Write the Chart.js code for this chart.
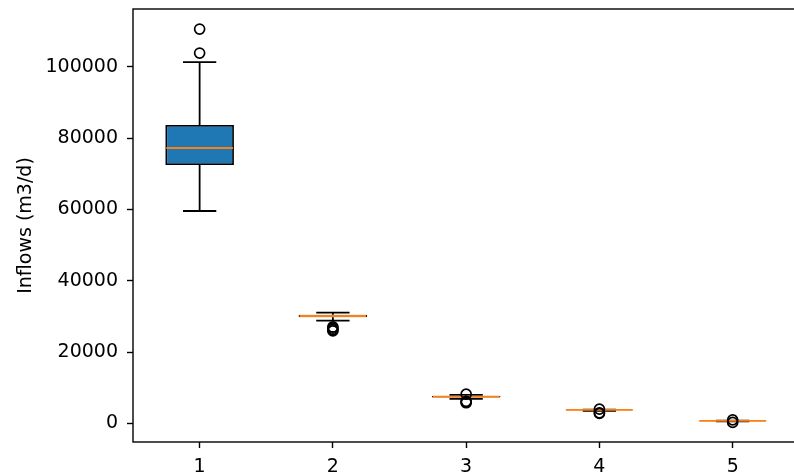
<!DOCTYPE html>
<html>
<head>
<meta charset="utf-8">
<script src="https://cdn.jsdelivr.net/npm/chart.js@4.4.1/dist/chart.umd.min.js"></script>
<style>
  html, body { margin: 0; padding: 0; background: #fff; overflow: hidden; }
  #wrap { position: absolute; left: 0; top: 0; width: 806px; height: 475px; }
</style>
</head>
<body>
<div id="wrap"><canvas id="c" width="806" height="475"></canvas></div>
<script>
// ---- data ----
const positions   = [1, 2, 3, 4, 5];
const xTickLabels = ['1', '2', '3', '4', '5'];
const yTickValues = [0, 20000, 40000, 60000, 80000, 100000];
const medians     = [77230, 30130, 7510, 3780, 700];
const q1          = [72460, 29800, 7300, 3700, 600];
const q3          = [83670, 30500, 7700, 3850, 750];
const whiskerLow  = [59560, 28820, 6900, 3500, 560];
const whiskerHigh = [101330, 31050, 7990, 3900, 800];
const outliers    = [
  [110580, 103850],
  [27050, 26700, 26300, 25950],
  [8200, 6200, 6000, 5800],
  [4000, 2950, 2800],
  [1000, 300]
];
const yAxisTitle = 'Inflows (m3/d)';

// ---- build library datasets from the arrays ----
const boxWidth = 0.5, capWidth = 0.25;
const boxData = positions.map((p, i) => ({ x: p, y: [q1[i], q3[i]] }));
const whiskerData = [], capData = [], medianData = [], outlierData = [];
positions.forEach((p, i) => {
  whiskerData.push({ x: p, y: q3[i] }, { x: p, y: whiskerHigh[i] }, { x: p, y: null },
                   { x: p, y: q1[i] }, { x: p, y: whiskerLow[i] }, { x: p, y: null });
  capData.push({ x: p - capWidth / 2, y: whiskerHigh[i] }, { x: p + capWidth / 2, y: whiskerHigh[i] }, { x: p, y: null },
               { x: p - capWidth / 2, y: whiskerLow[i] }, { x: p + capWidth / 2, y: whiskerLow[i] }, { x: p, y: null });
  medianData.push({ x: p - boxWidth / 2, y: medians[i] }, { x: p + boxWidth / 2, y: medians[i] }, { x: p, y: null });
  outliers[i].forEach(v => outlierData.push({ x: p, y: v }));
});

const FONT = { family: 'DejaVu Sans', size: 19 };

const framePlugin = {
  id: 'frame',
  afterDraw(chart) {
    const { ctx, chartArea: a } = chart;
    ctx.save();
    ctx.strokeStyle = '#000';
    ctx.lineWidth = 1.4;
    ctx.strokeRect(a.left, a.top, a.right - a.left, a.bottom - a.top);
    ctx.restore();
  }
};

new Chart(document.getElementById('c'), {
  type: 'bar',
  data: {
    datasets: [
      { type: 'bar', data: boxData, backgroundColor: '#1f77b4', borderColor: '#000',
        borderWidth: 1.8, borderSkipped: false, barPercentage: 0.515, categoryPercentage: 1.0, order: 4 },
      { type: 'line', data: whiskerData, borderColor: '#000', borderWidth: 1.8, pointRadius: 0,
        spanGaps: false, fill: false, order: 3 },
      { type: 'line', data: capData, borderColor: '#000', borderWidth: 1.8, pointRadius: 0,
        spanGaps: false, fill: false, order: 3 },
      { type: 'line', data: medianData, borderColor: '#ff7f0e', borderWidth: 1.8, pointRadius: 0,
        spanGaps: false, fill: false, order: 1 },
      { type: 'scatter', data: outlierData, borderColor: '#000', backgroundColor: 'rgba(0,0,0,0)',
        borderWidth: 1.7, pointRadius: 5, pointStyle: 'circle', order: 0 }
    ]
  },
  options: {
    responsive: false,
    animation: false,
    devicePixelRatio: 1,
    events: [],
    layout: { padding: { top: 9, right: 1.5, left: 0, bottom: 0 } },
    plugins: { legend: { display: false }, tooltip: { enabled: false } },
    scales: {
      x: {
        type: 'linear', min: 0.5, max: 5.5, offset: false,
        afterBuildTicks: s => { s.ticks = positions.map(v => ({ value: v })); },
        afterFit: s => { s.height = 33; s.paddingLeft = 0; s.paddingRight = 0; },
        grid: { display: true, drawOnChartArea: false, drawTicks: true, tickLength: 6,
                tickWidth: 1.4, tickColor: '#000', offset: false },
        border: { display: false },
        ticks: { font: FONT, color: '#000', padding: 8, maxRotation: 0,
                 callback: (v) => xTickLabels[positions.indexOf(v)] ?? '' }
      },
      y: {
        type: 'linear', min: -5200, max: 116200,
        afterBuildTicks: s => { s.ticks = yTickValues.map(v => ({ value: v })); },
        afterFit: s => { s.width = 133; s.paddingTop = 0; s.paddingBottom = 0; },
        grid: { display: true, drawOnChartArea: false, drawTicks: true, tickLength: 6,
                tickWidth: 1.4, tickColor: '#000' },
        border: { display: false },
        ticks: { font: FONT, color: '#000', padding: 9, callback: v => String(v) },
        title: { display: true, text: yAxisTitle, font: FONT, color: '#000', padding: { top: 15, bottom: 0 } }
      }
    }
  },
  plugins: [framePlugin]
});
</script>
</body>
</html>
